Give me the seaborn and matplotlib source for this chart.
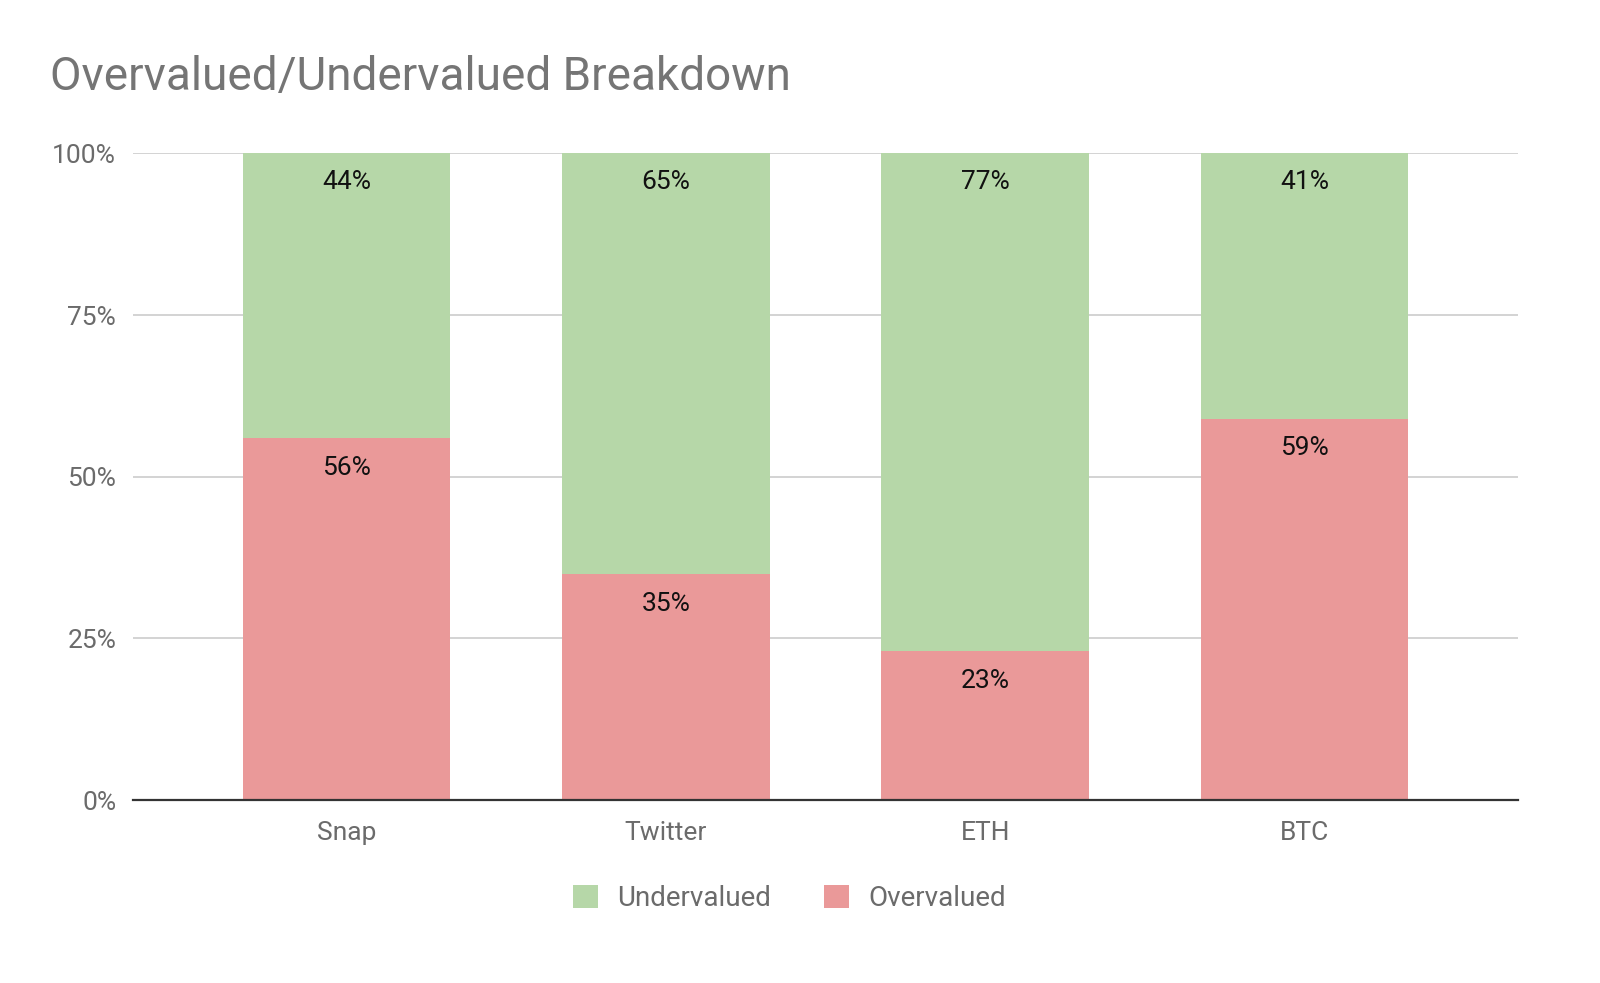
import pandas as pd
import matplotlib.pyplot as plt
import seaborn as sns
from matplotlib.patches import Patch
from matplotlib.ticker import FuncFormatter

# data
categorias = ['Snap', 'Twitter', 'ETH', 'BTC']
overvalued = [56, 35, 23, 59]
undervalued = [44, 65, 77, 41]

VERDE = '#b6d7a8'
VERMELHO = '#ea9999'

sns.set_theme(style="white")
plt.rcParams['font.family'] = ['Roboto', 'DejaVu Sans']

df = pd.DataFrame({'categoria': categorias,
                   'over': overvalued,
                   'under': undervalued})
df['total'] = df['over'] + df['under']

fig = plt.figure(figsize=(16, 9.83), dpi=100)
ax = fig.add_axes([0.083, 0.186, 0.866, 0.658])

# stacked: full bar green, overvalued red on top of it
sns.barplot(data=df, x='categoria', y='total', color=VERDE, width=0.65,
            saturation=1, linewidth=0, ax=ax, zorder=2)
sns.barplot(data=df, x='categoria', y='over', color=VERMELHO, width=0.65,
            saturation=1, linewidth=0, ax=ax, zorder=3)

for i, row in df.iterrows():
    ax.annotate(f"{row['under']}%", (i, row['total']), xytext=(0, -20.5),
                textcoords='offset points', ha='center', va='center',
                fontsize=19, color='#111111', zorder=4)
    ax.annotate(f"{row['over']}%", (i, row['over']), xytext=(0, -21.5),
                textcoords='offset points', ha='center', va='center',
                fontsize=19, color='#111111', zorder=4)

ax.set_ylim(0, 100)
ax.set_xlim(-0.67, 3.67)
ax.set_yticks([0, 25, 50, 75, 100])
ax.yaxis.set_major_formatter(FuncFormatter(lambda v, p: f"{int(v)}%"))
ax.grid(axis='y', color='#cccccc', linewidth=1.2, zorder=0)
ax.set_axisbelow(True)
for lado in ['top', 'right', 'left']:
    ax.spines[lado].set_visible(False)
ax.spines['bottom'].set_color('#333333')
ax.spines['bottom'].set_linewidth(1.6)
ax.spines['bottom'].set_zorder(5)
ax.tick_params(axis='both', length=0, labelsize=19, labelcolor='#6b6b6b')
ax.tick_params(axis='y', pad=12)
ax.tick_params(axis='x', pad=15)
ax.set_xlabel('')
ax.set_ylabel('')

fig.text(0.031, 0.922, 'Overvalued/Undervalued Breakdown', fontsize=33,
         color='#757575', ha='left', va='center')

handles = [Patch(facecolor=VERDE, edgecolor='none', label='Undervalued'),
           Patch(facecolor=VERMELHO, edgecolor='none', label='Overvalued')]
fig.legend(handles=handles, loc='center', bbox_to_anchor=(0.4935, 0.086),
           ncol=2, frameon=False, fontsize=20, handlelength=0.9,
           handleheight=0.9, handletextpad=0.7, columnspacing=1.9,
           labelcolor='#6b6b6b')

fig.savefig('out.png', dpi=100)
